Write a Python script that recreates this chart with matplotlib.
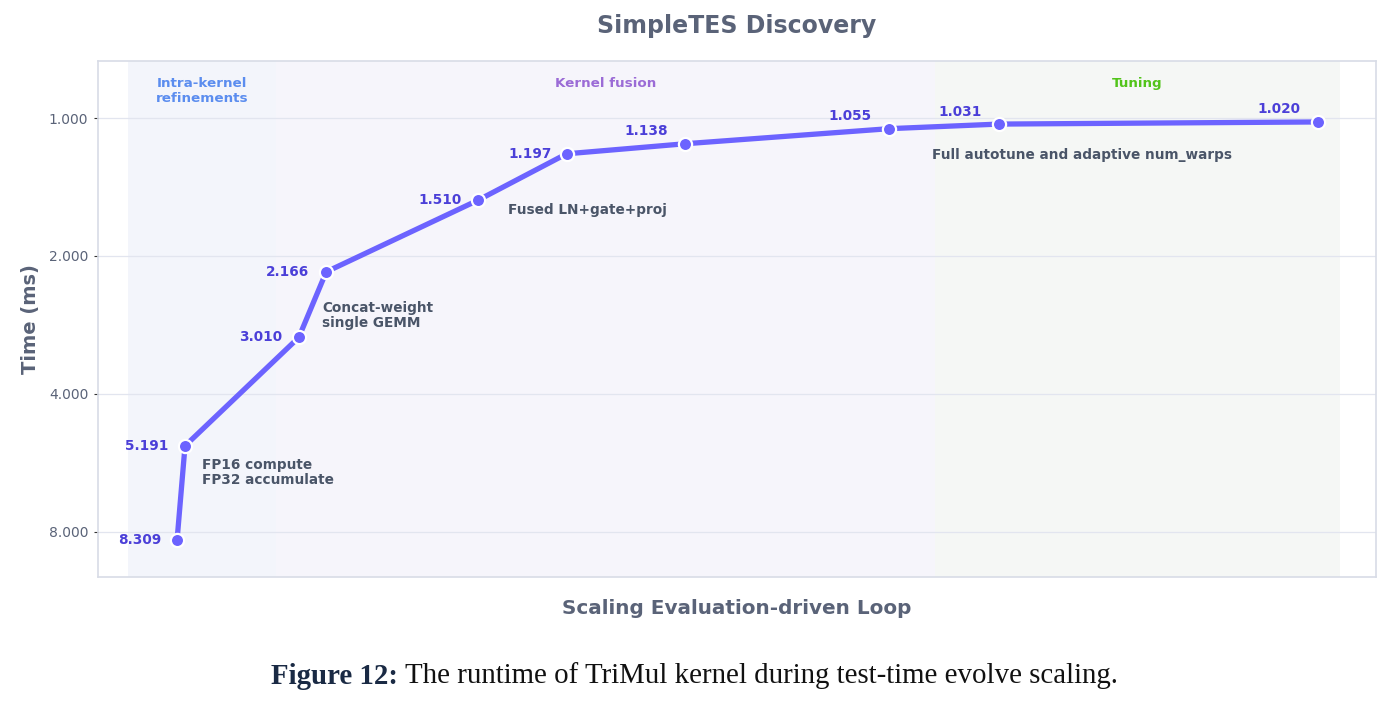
#!/usr/bin/env python3
"""SimpleTES discovery: TriMul kernel runtime over the evolve loop."""

import matplotlib.pyplot as plt
from matplotlib.ticker import FixedLocator, FormatStrFormatter, NullLocator

STEPS = [8, 9.3, 28, 32.5, 57.5, 72, 91.5, 125, 143, 195.5]
TIMES = [8.309, 5.191, 3.010, 2.166, 1.510, 1.197, 1.138, 1.055, 1.031, 1.020]
# (dx, dy, ha) in points for each value label
LABEL_POS = [
    (-11, 0, "right"), (-12, 0, "right"), (-12, 0, "right"), (-12, 0, "right"),
    (-12, 0, "right"), (-11, 0, "right"), (-28, 9, "center"), (-28, 9, "center"),
    (-28, 9, "center"), (-28, 9.5, "center"),
]
PHASES = [
    ("Intra-kernel\nrefinements", 0, 24.2, "#f3f5fb", "#5b8def"),
    ("Kernel fusion", 24.2, 132.5, "#f6f5fb", "#9b6bd6"),
    ("Tuning", 132.5, 199.1, "#f5f7f5", "#52c41a"),
]
NOTES = [
    ("FP16 compute\nFP32 accumulate", 9.3, 5.191, 12, -9),
    ("Concat-weight\nsingle GEMM", 32.5, 2.166, -3, -21),
    ("Fused LN+gate+proj", 57.5, 1.510, 21, -2),
    ("Full autotune and adaptive num_warps", 143, 1.031, -48, -17),
]
YTICKS = [1, 2, 4, 8]

LINE = "#6c63ff"
VALUE = "#4b3fd8"
NOTE = "#4a5568"
MUTED = "#5a6378"


def main():
    plt.rcParams.update({"font.family": "DejaVu Sans"})
    fig = plt.figure(figsize=(13.96, 7.07), dpi=100)
    ax = fig.add_axes([98 / 1396, 1 - 577 / 707, 1278 / 1396, 516 / 707])

    for name, lo, hi, fill, color in PHASES:
        ax.axvspan(lo, hi, color=fill, zorder=0, lw=0)
        ax.text((lo + hi) / 2, 0.969, name, transform=ax.get_xaxis_transform(),
                ha="center", va="top", fontsize=9.7, fontweight="bold",
                color=color, linespacing=1.2)

    ax.plot(STEPS, TIMES, color=LINE, lw=3.8, marker="o", ms=9.5,
            mfc=LINE, mec="white", mew=1.6, zorder=3, solid_capstyle="round")

    for x, y, (dx, dy, ha) in zip(STEPS, TIMES, LABEL_POS):
        ax.annotate(f"{y:.3f}", (x, y), xytext=(dx, dy), textcoords="offset points",
                    ha=ha, va="center", fontsize=9.8, fontweight="bold",
                    color=VALUE, zorder=4)

    for text, x, y, dx, dy in NOTES:
        ax.annotate(text, (x, y), xytext=(dx, dy), textcoords="offset points",
                    ha="left", va="top", fontsize=9.8, fontweight="bold",
                    color=NOTE, linespacing=1.05, zorder=4)

    ax.set_yscale("log", base=2)
    ax.set_ylim(10.03, 0.751)
    ax.set_xlim(-5, 205)
    ax.yaxis.set_major_locator(FixedLocator(YTICKS))
    ax.yaxis.set_major_formatter(FormatStrFormatter("%.3f"))
    ax.yaxis.set_minor_locator(NullLocator())
    ax.set_xticks([])
    ax.tick_params(axis="y", length=3, width=0.8, color="#333333",
                   labelsize=10, labelcolor=MUTED, pad=4)
    ax.grid(axis="y", color="#e2e5ef", lw=0.9, zorder=1)
    ax.set_axisbelow(True)
    for spine in ax.spines.values():
        spine.set_color("#d8dce6")
        spine.set_linewidth(1.2)

    ax.set_ylabel("Time (ms)", fontsize=14, fontweight="bold", color=MUTED, labelpad=6)
    ax.set_xlabel("Scaling Evaluation-driven Loop", fontsize=14.4, fontweight="bold",
                  color=MUTED, labelpad=16)
    ax.set_title("SimpleTES Discovery", fontsize=17, fontweight="bold",
                 color=MUTED, pad=20)

    # caption under the chart
    cap_y = 1 - 676 / 707
    serif = ["Liberation Serif", "DejaVu Serif"]
    head = fig.text(271 / 1396, cap_y, "Figure 12:", fontsize=20.8, fontweight="bold",
                    color="#1a2a44", family=serif, va="center")
    fig.canvas.draw()
    box = head.get_window_extent()
    fig.text(box.x1 / fig.bbox.width + 0.005, cap_y,
             "The runtime of TriMul kernel during test-time evolve scaling.",
             fontsize=20.8, color="#111111", family=serif, va="center")

    fig.savefig("out.png", dpi=100)


if __name__ == "__main__":
    main()
